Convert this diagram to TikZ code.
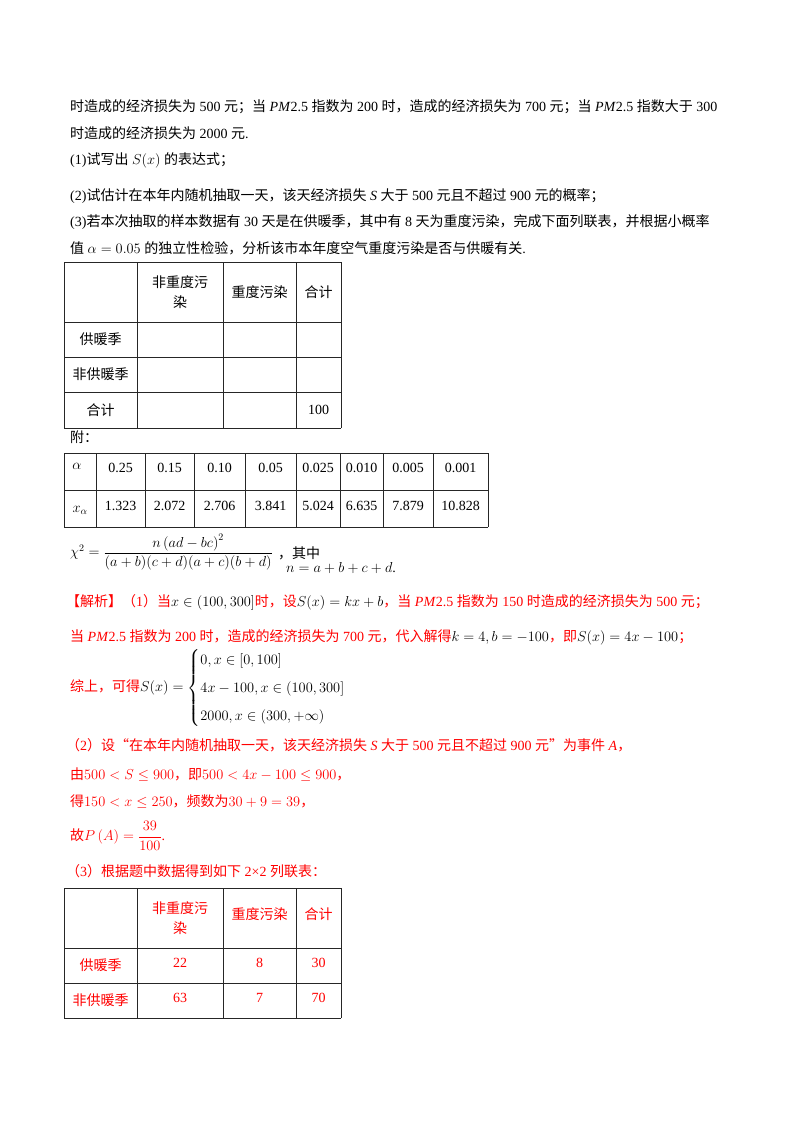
\documentclass[tikz,border=0pt]{standalone}
\usepackage{amsmath}
\usepackage{fontspec}
\setmainfont{Liberation Serif}
\newfontfamily\cjk{Noto Sans CJK SC}
\XeTeXinterchartokenstate=1
\newXeTeXintercharclass\cjkclass
\newcount\cc
\cc="4E00 \loop \XeTeXcharclass\cc=\cjkclass \advance\cc 1 \ifnum\cc<"A000 \repeat
\cc="3000 \loop \XeTeXcharclass\cc=\cjkclass \advance\cc 1 \ifnum\cc<"3040 \repeat
\cc="FF00 \loop \XeTeXcharclass\cc=\cjkclass \advance\cc 1 \ifnum\cc<"FFF0 \repeat
\XeTeXcharclass"201C=\cjkclass \XeTeXcharclass"201D=\cjkclass
\XeTeXinterchartoks 0 \cjkclass={\begingroup\cjk}
\XeTeXinterchartoks 4095 \cjkclass={\begingroup\cjk}
\XeTeXinterchartoks \cjkclass 0={\endgroup}
\XeTeXinterchartoks \cjkclass 4095={\endgroup}
\newcommand\fs{\fontsize{14}{20}\selectfont}
\newcommand\PM{\textit{PM}2.5}
\newcommand\bk[1]{\textcolor{black}{#1}}
\tikzset{t/.style={anchor=west,inner sep=0,font=\fs},
 r/.style={t,text=red},
 c/.style={inner sep=0,font=\fs,align=center},
 rc/.style={c,text=red},
 grid/.style={line width=0.8pt,black!85}}
\begin{document}
\begin{tikzpicture}[x=1pt,y=-1pt]
\useasboundingbox[fill=white] (0,0) rectangle (800,1132);
\node[t] (l1) at (70,107) {时造成的经济损失为 500 元；当 \PM{} 指数为 200 时，造成的经济损失为 700 元；当 \PM{} 指数大于 300};
\node[t] (l2) at (70,133) {时造成的经济损失为 2000 元.};
\node[t] (l3) at (70,160) {(1)试写出 $S(x)$ 的表达式；};
\node[t] (l4) at (70,196) {(2)试估计在本年内随机抽取一天，该天经济损失 \textit{S} 大于 500 元且不超过 900 元的概率；};
\node[t] (l5) at (70,222) {(3)若本次抽取的样本数据有 30 天是在供暖季，其中有 8 天为重度污染，完成下面列联表，并根据小概率};
\node[t] (l6) at (70,248) {值 $\alpha=0.05$ 的独立性检验，分析该市本年度空气重度污染是否与供暖有关.};
% table 1
\foreach \x in {64,137,223,296,341} \draw[grid] (\x,262) -- (\x,428);
\foreach \y in {262,322,357,392,428} \draw[grid] (64,\y) -- (341,\y);
\node[c] (a1) at (180,292) {非重度污\\染};
\node[c] (a2) at (259.5,292) {重度污染};
\node[c] (a3) at (318.5,292) {合计};
\node[c] (a4) at (100.5,339.5) {供暖季};
\node[c] (a5) at (100.5,374.5) {非供暖季};
\node[c] (a6) at (100.5,410) {合计};
\node[c] (a7) at (318.5,410) {100};
\node[t] (fu) at (70,437) {附：};
% table 2
\foreach \x in {64,96,145,194,245,296,340,383,433,488} \draw[grid] (\x,453) -- (\x,527);
\foreach \y in {453,490,527} \draw[grid] (64,\y) -- (488,\y);
\node[c] (b0) at (77,466) {$\alpha$};
\node[c] (c0) at (80,510) {$x_\alpha$};
\foreach \a/\b/\v/\w [count=\i] in {96/145/0.25/1.323,145/194/0.15/2.072,194/245/0.10/2.706,245/296/0.05/3.841,296/340/0.025/5.024,340/383/0.010/6.635,383/433/0.005/7.879,433/488/0.001/10.828}{
 \node[c] (b\i) at ({(\a+\b)/2},468) {\v};
 \node[c] (c\i) at ({(\a+\b)/2},506) {\w};}
% formula
\node[t] (f1) at (70,552) {$\chi^2=\dfrac{n\left(ad-bc\right)^2}{(a+b)(c+d)(a+c)(b+d)}$};
\node[t] (f2) at (278,553) {，其中};
\node[t] (f3) at (286,568) {$n=a+b+c+d$.};
% solution
\node[r] (s1) at (66,602) {【解析】（1）当\bk{$x\in\left(100,300\right]$}时，设\bk{$S(x)=kx+b$}，当 \PM{} 指数为 150 时造成的经济损失为 500 元；};
\node[r] (s2) at (70,637) {当 \PM{} 指数为 200 时，造成的经济损失为 700 元，代入解得\bk{$k=4,b=-100$}，即\bk{$S(x)=4x-100$}；};
\node[r] (s3) at (70,688) {综上，可得\bk{$S(x)=\begin{cases}0,x\in\left[0,100\right]\\[4pt]4x-100,x\in\left(100,300\right]\\[4pt]2000,x\in\left(300,+\infty\right)\end{cases}$}};
\node[r] (s4) at (66,745) {（2）设“在本年内随机抽取一天，该天经济损失 \textit{S} 大于 500 元且不超过 900 元”为事件 \textit{A}，};
\node[r] (s5) at (70,775) {由$500<S\le900$，即$500<4x-100\le900$，};
\node[r] (s6) at (70,802) {得$150<x\le250$，频数为$30+9=39$，};
\node[r] (s7) at (70,836) {故$P\left(A\right)=\dfrac{39}{100}$.};
\node[r] (s8) at (66,871) {（3）根据题中数据得到如下 2×2 列联表：};
% table 3
\foreach \x in {64,137,223,296,341} \draw[grid] (\x,888) -- (\x,1018);
\foreach \y in {888,948,983,1018} \draw[grid] (64,\y) -- (341,\y);
\node[rc] (d1) at (180,918) {非重度污\\染};
\node[rc] (d2) at (259.5,914) {重度污染};
\node[rc] (d3) at (318.5,914) {合计};
\node[rc] (d4) at (100.5,965.5) {供暖季};
\node[rc] (d5) at (100.5,1000.5) {非供暖季};
\node[rc] (d6) at (180,963) {22};
\node[rc] (d7) at (259.5,963) {8};
\node[rc] (d8) at (318.5,963) {30};
\node[rc] (d9) at (180,998) {63};
\node[rc] (d10) at (259.5,998) {7};
\node[rc] (d11) at (318.5,998) {70};
\end{tikzpicture}
\end{document}
